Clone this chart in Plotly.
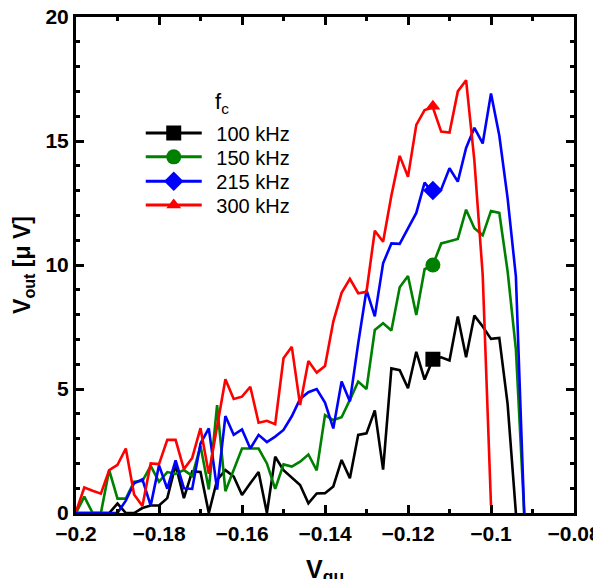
import plotly.graph_objects as go

# Gate voltage sweep (V)
V_GU = [-0.200, -0.198, -0.196, -0.194, -0.192, -0.190, -0.188, -0.186, -0.184, -0.182,
        -0.180, -0.178, -0.176, -0.174, -0.172, -0.170, -0.168, -0.166, -0.164, -0.162,
        -0.160, -0.158, -0.156, -0.154, -0.152, -0.150, -0.148, -0.146, -0.144, -0.142,
        -0.140, -0.138, -0.136, -0.134, -0.132, -0.130, -0.128, -0.126, -0.124, -0.122,
        -0.120, -0.118, -0.116, -0.114, -0.112, -0.110, -0.108, -0.106, -0.104, -0.102,
        -0.100, -0.098, -0.096, -0.094, -0.092]

# V_out (uV) for each carrier frequency
V_100 = [0, 0, 0, 0, 0, 0.38, 0, 0, 0.2, 0.3, 0.3, 0.6, 1.94, 0.6, 1.68, 1.65, 0, 1.33, 1.73, 1.47,
         0.73, 1.2, 1.65, 0, 2.27, 1.73, 1.44, 1.13, 0.39, 0.79, 0.8, 1.07, 2.14, 1.4, 3.15, 3.21,
         4.14, 1.75, 5.83, 5.76, 5.03, 6.5, 5.38, 6.2, 6.28, 6.15, 7.92, 6.28, 7.96, 7.52, 7.02,
         7.06, 4.4, 0]
V_150 = [0, 0.66, 0, 0, 1.73, 0.58, 0.58, 1.26, 1.29, 1.9, 1.26, 1.65, 1.58, 1.73, 1.5, 2.7, 0.95,
         4.35, 0.88, 1.78, 2.6, 2.6, 2.6, 2.0, 0.97, 1.96, 1.87, 2.07, 2.36, 1.72, 3.95, 3.75, 3.86,
         4.56, 5.3, 5.0, 7.38, 7.65, 7.36, 9.1, 9.56, 7.98, 9.83, 10.0, 10.87, 10.96, 11.05, 12.23,
         11.48, 11.2, 12.18, 12.1, 9.75, 6.6, 0]
V_215 = [0, 0, 0, 0, 0, 0, 0.5, 1.2, 1.36, 0.3, 1.92, 0.98, 2.12, 1.0, 0.97, 2.8, 3.41, 0.94, 3.91,
         3.15, 3.37, 2.6, 3.15, 2.86, 3.08, 3.35, 3.9, 4.6, 4.87, 5.0, 4.45, 3.41, 5.3, 4.5, 6.84,
         8.99, 7.93, 10.07, 10.87, 10.85, 11.48, 12.1, 13.32, 12.9, 13.05, 13.9, 13.36, 14.72,
         15.53, 14.9, 16.92, 15.22, 12.7, 9.53, 0]
V_300 = [0.05, 1.03, 0.9, 0.78, 1.73, 1.94, 2.6, 0.75, 0.28, 2.0, 1.97, 2.95, 2.95, 1.77, 2.22, 3.42,
         1.58, 3.5, 5.39, 4.6, 4.69, 5.09, 3.64, 3.72, 3.58, 6.24, 6.7, 4.35, 6.13, 5.66, 5.93, 7.72,
         8.88, 9.44, 8.86, 8.92, 11.38, 10.94, 12.8, 14.4, 13.56, 15.65, 16.25, 16.35, 15.38, 15.34,
         17.0, 17.45, 14.2, 9.6, 0.3]

SERIES_NAMES = ["100 kHz", "150 kHz", "215 kHz", "300 kHz"]
SERIES_VALUES = [V_100, V_150, V_215, V_300]
SERIES_COLORS = ["#000000", "#008000", "#0000ff", "#ff0000"]
SERIES_SYMBOLS = ["square", "circle", "diamond", "triangle-up"]
MARKER_SIZES = [15, 15, 15, 13]
LEGEND_IDS = ["legend", "legend2", "legend3", "legend4"]
LEGEND_ROW_Y = [0.766, 0.718, 0.669, 0.621]   # paper y of each legend row
LEGEND_PAD = "\u00a0\u2009"                     # gap between legend sample and label

# single marked point per series
MARK_X = -0.114
MARK_Y = [6.2, 10.0, 13.0, 16.4]

X_TICKS = [-0.2, -0.18, -0.16, -0.14, -0.12, -0.1, -0.08]
X_TICK_TEXT = ["\u22120.2", "\u22120.18", "\u22120.16", "\u22120.14", "\u22120.12", "\u22120.1", "\u22120.08"]
Y_TICKS = [0, 5, 10, 15, 20]

fig = go.Figure()
for name, vals, col in zip(SERIES_NAMES, SERIES_VALUES, SERIES_COLORS):
    fig.add_trace(go.Scatter(x=V_GU[:len(vals)], y=vals, mode="lines",
                             line=dict(color=col, width=2.6), showlegend=False,
                             hoverinfo="skip"))
for name, col, sym, ms, my, lg in zip(SERIES_NAMES, SERIES_COLORS, SERIES_SYMBOLS,
                                      MARKER_SIZES, MARK_Y, LEGEND_IDS):
    fig.add_trace(go.Scatter(x=[MARK_X], y=[my], mode="lines+markers", name=LEGEND_PAD + name,
                             legend=lg, line=dict(color=col, width=3),
                             marker=dict(color=col, symbol=sym, size=ms, line=dict(width=0))))

axis_common = dict(showline=True, linecolor="black", linewidth=3, mirror="allticks",
                   ticks="inside", ticklen=8, tickwidth=2.5, tickcolor="black",
                   showgrid=False, zeroline=False, ticklabeloverflow="allow",
                   tickfont=dict(family="Liberation Sans", size=21, color="black", weight="bold"),
                   automargin=False)

fig.update_xaxes(range=[-0.2, -0.08], tickvals=X_TICKS, ticktext=X_TICK_TEXT,
                 minor=dict(dtick=0.01, tick0=-0.2, ticks="inside", ticklen=4, tickwidth=2.5,
                            tickcolor="black", showgrid=False),
                 **axis_common)
fig.update_yaxes(range=[0, 20], tickvals=Y_TICKS,
                 minor=dict(dtick=1, tick0=0, ticks="inside", ticklen=4, tickwidth=2.5,
                            tickcolor="black", showgrid=False),
                 title=dict(text="V<sub>out</sub> [\u03bc V]", standoff=9,
                            font=dict(family="Liberation Sans", size=23, color="black", weight="bold")),
                 **axis_common)

legend_style = dict(x=0.13, xanchor="left", yanchor="middle",
                    bgcolor="rgba(0,0,0,0)", borderwidth=0,
                    font=dict(family="Liberation Sans", size=20, color="black"),
                    itemwidth=56)
layout_legends = {lg: dict(y=ly, **legend_style) for lg, ly in zip(LEGEND_IDS, LEGEND_ROW_Y)}

fig.update_layout(
    width=593, height=571,
    margin=dict(l=68, r=27, t=9, b=66),
    paper_bgcolor="white", plot_bgcolor="white",
    font=dict(family="Liberation Sans", color="black"),
    **layout_legends,
    annotations=[
        dict(text="f<sub>c</sub>", xref="paper", yref="paper", x=0.293, y=0.827,
             xanchor="center", yanchor="middle", showarrow=False,
             font=dict(family="Liberation Sans", size=22, color="black")),
        dict(text="V<sub>gu</sub>", xref="paper", yref="paper", x=0.5, y=0,
             xanchor="center", yanchor="top", yshift=-40, showarrow=False,
             font=dict(family="Liberation Sans", size=25, color="black", weight="bold")),
    ],
)

fig.write_html("out.html")
